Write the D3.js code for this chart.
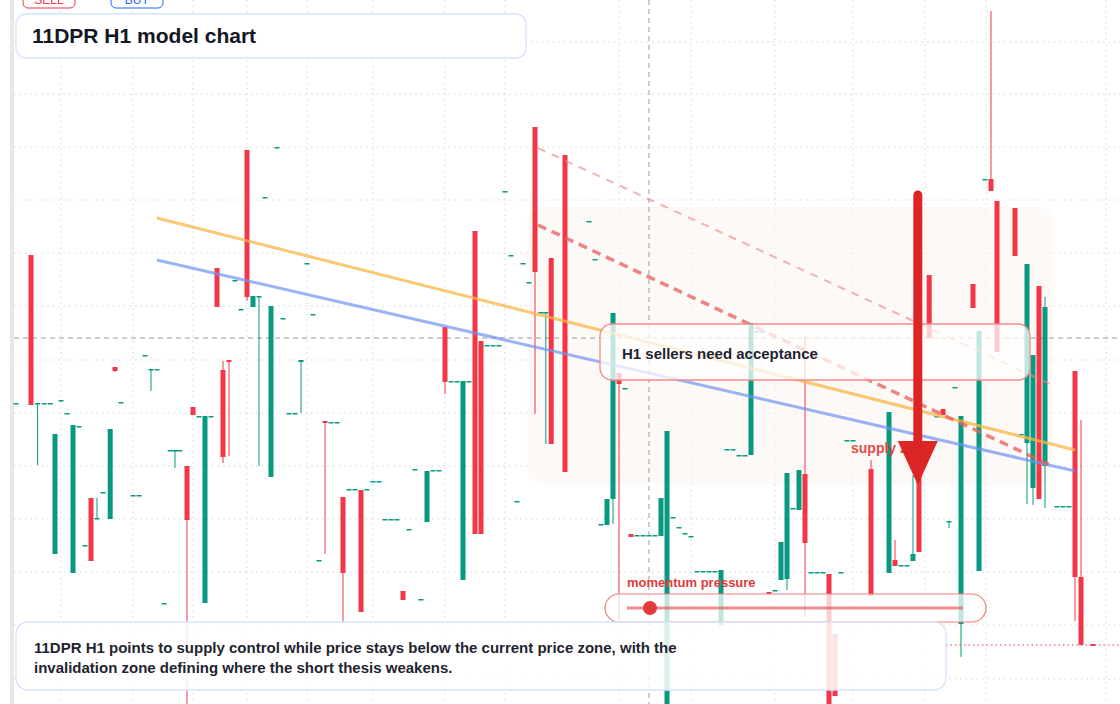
<!DOCTYPE html>
<html><head><meta charset="utf-8">
<script src="https://cdn.jsdelivr.net/npm/d3@7"></script>
<style>body{margin:0;background:#fff;overflow:hidden}svg{display:block;font-family:"Liberation Sans",Arial,sans-serif}</style>
</head><body>
<script>
var w = 1120, h = 704;
// candles: [t, open, high, low, close]
var candles = [
 [0.5,301,301,301,301],[3,449,449,299,299],[4.1,300,301,239,301],[5.2,301,301,301,301],[6.2,301,301,301,301],
 [7,150,270,150,270],[8,304,304,304,304],[9,291,291,291,291],[10,131,279,131,279],[11,278,278,278,278],
 [12,159,159,159,159],[13,206,206,143,143],[14,185,206,185,186],[15,212,212,212,212],[16.2,185,275,185,275],
 [17,337,337,332,333],[18,302,302,302,302],[20,209,209,209,209],[21,209,209,209,209],[22,349,349,349,349],
 [23,334,335,313,335],[24,335,335,335,335],[25.2,101,101,101,101],[26.2,254,254,254,254],[27,254,254,236,254],
 [27.8,254,254,254,254],[29,238,238,0,184],[30,297,297,289,289],[31,288,288,288,288],[32,101,288,101,288],
 [33,288,288,288,288],[34,436,436,397,397],[35,334,343,241,247],[36,344,344,248,342],[37,424,424,424,424],
 [38,395,395,395,395],[39,554,554,403,407],[40,397,408,397,408],[41,408,408,238,408],[42,507,507,507,507],
 [43,227,398,227,398],[44,557,557,557,557],[45,386,386,386,386],[46,291,291,291,291],[47,291,291,291,291],
 [48,342,344,291,344],[49,441,441,441,441],[50,390,390,390,390],[51,144,144,144,144],[52,283,283,150,281],
 [53,282,282,282,282],[54,282,282,282,282],[55,207,207,82,131],[56,215,215,215,215],[57,215,215,215,215],
 [58,214,214,92,92],[59,215,215,215,215],[60,223,223,223,223],[61,223,223,223,223],[62,185,185,185,185],
 [63,185,185,185,185],[64,185,185,185,185],[65,113,113,104,104],[66,175,175,175,175],[67,235,235,235,235],
 [68,105,105,105,105],[69,182,233,182,233],[70,234,234,234,234],[71,234,234,234,234],[72,377,377,310,322],
 [73,323,323,323,323],[74,323,323,323,323],[75,124,323,124,323],[76,323,323,323,323],[77,473,473,170,170],
 [78,363,363,170,170],[79,359,359,359,359],[80,359,359,359,359],[81,359,359,359,359],[82,513,513,513,513],
 [83,449,449,449,449],[84,203,203,203,203],[85,441,441,441,441],[86,422,422,422,422],[87,577,577,290,432],
 [88,392,392,392,392],[88.8,392,392,260,392],[89.7,446,446,260,260],[92,549,549,232,232],[96,483,483,483,483],
 [97,445,445,445,445],[98,180,180,180,180],[99,179,205,179,205],[100,205,391,180,391],[101,331,331,84,320],
 [102,316,316,316,316],[103,170,170,167,167],[104,169,169,169,169],[105,169,169,169,169],[106,169,169,169,169],
 [107,169,169,169,169],[108,168,206,168,206],[109,0,273,0,273],[110,187,187,187,187],[111,177,177,177,177],
 [112,171,171,171,171],[113,168,168,168,168],[114,133,133,133,133],[115,133,133,133,133],[116,133,133,133,133],
 [117,133,133,133,133],[118,79,134,79,134],[119,255,255,255,255],[120,255,255,255,255],[121,249,249,249,249],
 [122,249,249,249,249],[123,249,381,249,381],[124,373,373,373,373],[125,373,373,373,373],[126,112,112,110,110],
 [127,114,114,114,114],[128,124,162,124,162],[129,125,231,114,231],[130,196,196,196,196],[131,194,234,194,234],
 [132,230,368,87,161],[133,132,132,132,132],[134,132,132,132,132],[135,132,132,132,132],[136,130,130,0,0],
 [137,70,70,8,8],[138,132,132,132,132],[139,264,264,264,264],[140,264,264,264,264],[143,235,244,108,108],
 [146,131,292,131,292],[147,144,164,138,138],[148,139,139,139,139],[149,139,139,139,139],[150,143,229,143,150],
 [151,300,300,152,152],[152.7,429,429,366,366],[154,288,288,288,288],[155,295,295,289,289],[156,183,183,176,183],
 [157,317,317,317,317],[158,80,288,47,288],[160,420,420,396,396],[161,133,373,133,373],[162,525,525,525,525],
 [163,525,693,513,513],[164,503,503,352,352],[167,496,496,448,448],[168,270,270,270,270],[169,261,440,200,440],
 [170,216,349,199,349],[171,418,418,205,205],[172,238,407,196,397],[174,198,198,198,198],[175,198,198,198,198],
 [176,198,198,198,198],[177,333,333,83,127],[178,127,284,59,59],[180,60,60,58,58]
];
// overlay lines [t1, v1, t2, v2]
var trendOrange = [24, 486, 177, 254];
var trendBlue = [24, 444, 177, 233];
var dashLight = [87.5, 556, 173.2, 319];
var dashHeavy = [87.5, 479, 173.2, 238];
var zone = [85.7, 497, 173.2, 220];
var arrow = [150.8, 509, 219];
var crossT = 106, crossV = 366, lastV = 59;
var gridV = [662, 610, 557, 504, 451, 398, 344, 291, 238, 185, 132, 79, 25];
var gridT = [8, 20, 30, 39, 49, 60, 72, 82, 101, 113, 127, 140, 152, 162.2, 182.2];
var titleText = "11DPR H1 model chart";
var noteLines = ["11DPR H1 points to supply control while price stays below the current price zone, with the",
 "invalidation zone defining where the short thesis weakens."];

var x = d3.scaleLinear().domain([0, 184.5]).range([13, 1120]);
var y = d3.scaleLinear().domain([0, 704]).range([704, 0]);
var red = "#f23645", green = "#089981";
var svg = d3.select("body").append("svg").attr("width", w).attr("height", h);

svg.append("rect").attr("x", 10).attr("y", 0).attr("width", 4).attr("height", h).attr("fill", "#e8e8e8");
svg.selectAll(".gh").data(gridV).enter().append("line").attr("x1", 14).attr("x2", w)
  .attr("y1", d => y(d)).attr("y2", d => y(d)).attr("stroke", "#d5d5d5").attr("stroke-dasharray", "1.5,4");
svg.selectAll(".gv").data(gridT).enter().append("line").attr("y1", 0).attr("y2", h)
  .attr("x1", d => x(d)).attr("x2", d => x(d)).attr("stroke", "#d5d5d5").attr("stroke-dasharray", "1.5,4");

// zone
svg.append("rect").attr("x", x(zone[0])).attr("y", y(zone[1])).attr("width", x(zone[2]) - x(zone[0]))
  .attr("height", y(zone[3]) - y(zone[1])).attr("rx", 14).attr("fill", "#fcf4ee").attr("opacity", 0.55);

// crosshair
svg.append("line").attr("x1", x(crossT)).attr("x2", x(crossT)).attr("y1", 0).attr("y2", h)
  .attr("stroke", "#9a9a9a").attr("stroke-dasharray", "5,4");
svg.append("line").attr("x1", 14).attr("x2", w).attr("y1", y(crossV)).attr("y2", y(crossV))
  .attr("stroke", "#9a9a9a").attr("stroke-dasharray", "5,4");

// candles
var g = svg.append("g");
g.selectAll("line").data(candles).enter().append("line")
  .attr("x1", d => x(d[0])).attr("x2", d => x(d[0])).attr("y1", d => y(d[2])).attr("y2", d => y(d[3]))
  .attr("stroke", d => d[4] >= d[1] ? green : red).attr("stroke-width", 1);
g.selectAll("rect").data(candles).enter().append("rect")
  .attr("x", d => x(d[0]) - 2.5).attr("width", 5)
  .attr("y", d => y(Math.max(d[1], d[4])))
  .attr("height", d => Math.max(1.5, Math.abs(y(d[1]) - y(d[4]))))
  .attr("fill", d => d[4] >= d[1] ? green : red);

svg.append("line").attr("x1", x(155.5)).attr("x2", w).attr("y1", y(lastV)).attr("y2", y(lastV))
  .attr("stroke", red).attr("stroke-dasharray", "1.5,3");

function seg(a, col, wd, dash, op) {
  svg.append("line").attr("x1", x(a[0])).attr("y1", y(a[1])).attr("x2", x(a[2])).attr("y2", y(a[3]))
    .attr("stroke", col).attr("stroke-width", wd).attr("stroke-dasharray", dash).attr("opacity", op);
}
seg(trendOrange, "#fbb545", 3, null, 0.75);
seg(trendBlue, "#6f94f2", 3, null, 0.7);
seg(dashLight, "#ef8a8a", 2, "8,7", 0.65);
seg(dashHeavy, "#e85d5d", 3.5, "9,6", 0.75);

// label box
svg.append("rect").attr("x", 600).attr("y", 324).attr("width", 430).attr("height", 56).attr("rx", 12)
  .attr("fill", "#fff").attr("fill-opacity", 0.75).attr("stroke", "#f08b8b").attr("stroke-width", 1.3);
svg.append("text").attr("x", 622).attr("y", 359).attr("font-size", 15).attr("font-weight", "bold")
  .attr("fill", "#1f2430").text("H1 sellers need acceptance");

// supply zone text + arrow
svg.append("text").attr("x", 851).attr("y", 453).attr("font-size", 14).attr("font-weight", "bold")
  .attr("fill", "#e03a3a").attr("opacity", 0.9).text("supply zone");
svg.append("line").attr("x1", x(arrow[0])).attr("x2", x(arrow[0])).attr("y1", y(arrow[1]))
  .attr("y2", y(arrow[2]) - 40).attr("stroke", "#dc2626").attr("stroke-width", 9).attr("stroke-linecap", "round");
svg.append("path").attr("d", "M" + (x(arrow[0]) - 20) + "," + (y(arrow[2]) - 44) + "L" + (x(arrow[0]) + 20) + ","
  + (y(arrow[2]) - 44) + "L" + x(arrow[0]) + "," + y(arrow[2]) + "Z").attr("fill", "#dc2626");

// momentum pill
svg.append("text").attr("x", 627).attr("y", 587).attr("font-size", 13).attr("font-weight", "bold")
  .attr("fill", "#e03a3a").text("momentum pressure");
svg.append("rect").attr("x", 605).attr("y", 594).attr("width", 381).attr("height", 28).attr("rx", 14)
  .attr("fill", "#fff").attr("fill-opacity", 0.75).attr("stroke", "#ec8080").attr("stroke-width", 1.2);
svg.append("line").attr("x1", 627).attr("x2", 963).attr("y1", 608).attr("y2", 608)
  .attr("stroke", "#e06060").attr("stroke-width", 3).attr("opacity", 0.7);
svg.append("circle").attr("cx", 650).attr("cy", 608).attr("r", 7).attr("fill", "#e23b3b");

// top buttons (cut off at the top edge, as in the source)
svg.append("rect").attr("x", 23).attr("y", -12).attr("width", 52).attr("height", 20).attr("rx", 5)
  .attr("fill", "#fff").attr("stroke", red);
svg.append("text").attr("x", 49).attr("y", 4).attr("text-anchor", "middle").attr("font-size", 12).attr("fill", red).text("SELL");
svg.append("rect").attr("x", 111).attr("y", -12).attr("width", 52).attr("height", 20).attr("rx", 5)
  .attr("fill", "#fff").attr("stroke", "#2962ff");
svg.append("text").attr("x", 137).attr("y", 4).attr("text-anchor", "middle").attr("font-size", 12).attr("fill", "#2962ff").text("BUY");

// title
svg.append("rect").attr("x", 16).attr("y", 14).attr("width", 510).attr("height", 44).attr("rx", 10)
  .attr("fill", "#fff").attr("fill-opacity", 0.96).attr("stroke", "#d6e4fb").attr("stroke-width", 1.3);
svg.append("text").attr("x", 32).attr("y", 43).attr("font-size", 21).attr("font-weight", "bold")
  .attr("fill", "#131722").text(titleText);

// note box
svg.append("rect").attr("x", 16).attr("y", 622).attr("width", 930).attr("height", 68).attr("rx", 12)
  .attr("fill", "#fff").attr("fill-opacity", 0.85).attr("stroke", "#d6e4fb").attr("stroke-width", 1.3);
svg.selectAll(".note").data(noteLines).enter().append("text").attr("x", 34).attr("y", (d, i) => 653 + i * 20)
  .attr("font-size", 15).attr("font-weight", "bold").attr("fill", "#1f2430").text(d => d);
</script>
</body></html>
